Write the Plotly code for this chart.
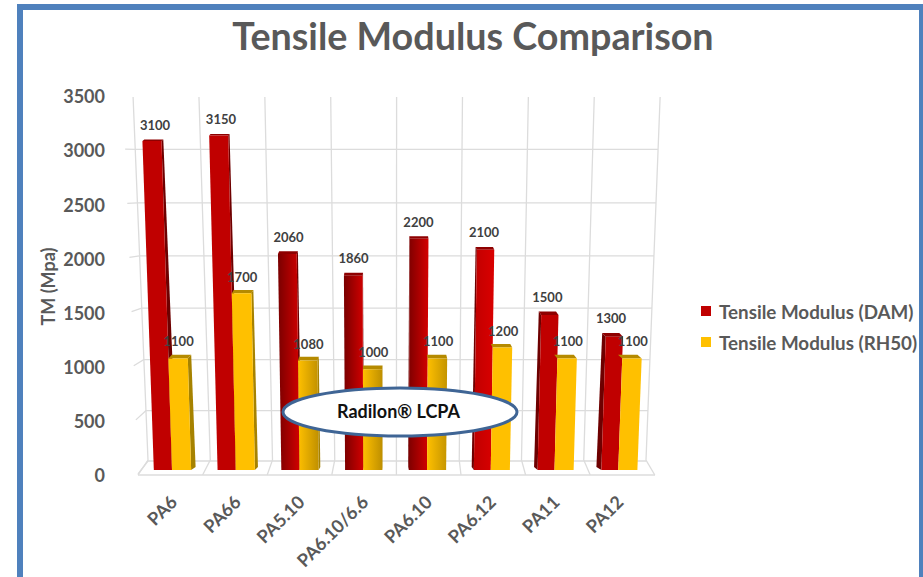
import plotly.graph_objects as go

# ---------- data ----------
categories = ["PA6", "PA66", "PA5.10", "PA6.10/6.6", "PA6.10", "PA6.12", "PA11", "PA12"]
dam_values = [3100, 3150, 2060, 1860, 2200, 2100, 1500, 1300]
rh50_values = [1100, 1700, 1080, 1000, 1100, 1200, 1100, 1100]
y_ticks = [0, 500, 1000, 1500, 2000, 2500, 3000, 3500]
series_names = ["Tensile Modulus (DAM)", "Tensile Modulus (RH50)"]

# ---------- styles ----------
W, H = 923, 577
FONT = "Lato"
GREY = "#595959"
GRID = "#DCDCDC"
RED, YEL = "#C00000", "#FFC000"
red_left = ["#C00000", "#C00000", "#7A0000", "#7A0000", "#7F0000", "#C00000", "#C00000", "#C00000"]
red_right = ["#C00000", "#C00000", "#D00000", "#D00000", "#D40000", "#DA0000", "#C00000", "#C00000"]
yel_right = ["#FFC000", "#FFC000", "#C09000", "#BE8F00", "#C49400", "#FFC000", "#FFC000", "#FFC000"]
red_widths = [0.285, 0.285, 0.285, 0.285, 0.285, 0.265, 0.265, 0.265]

# pixel geometry of the mock-3D scene
X0, DX = 172.0, 63.75        # pixel of category 0 boundary, pixels per category
Y0, SY = 473.0, 0.1076       # pixel of value 0, pixels per value unit
BASE = 3 / SY                # bars stand slightly in front of value 0
LEAN = 1.6e-5                # perspective lean of the bars
VX = 3.34                    # vanishing category position
DEPTH = 0.022
YEL_W = 0.30
TICK_0, TICK_TOP = 476, 97   # pixels of the axis labels' 0 and 3500


def lean(x, v):
    return LEAN * (x - VX) * v


def px_x(p):
    return (p - X0) / DX


def px_v(p):
    return (Y0 - p) / SY


def px_tick(p):
    return (TICK_0 - p) / (TICK_0 - TICK_TOP) * 3500


fig = go.Figure()


def add_bar(x0, x1, v, front_left, front_right, side, top, left_side=True):
    mid = (x0 + x1) / 2
    dx = DEPTH * (VX - mid)
    dx_top = dx * (1 - 0.7 * v / 3500)
    thick = (1 + 4 * (1 - v / 3500)) / SY
    vf = v - thick               # top edge of the front face; v is the back edge of the top face
    edge = x1 if dx > 0 else x0
    # side face
    if dx > 0 or left_side:
        fig.add_trace(go.Scatter(
            x=[edge, edge + dx, edge + dx_top + lean(edge, v), edge + lean(edge, vf), edge],
            y=[BASE, BASE + 3 / SY, v, vf, BASE], yaxis="y2", mode="lines", fill="toself",
            fillcolor=side, line=dict(width=0), hoverinfo="skip", showlegend=False))
    # top face
    tx0, tx1 = x0 + lean(x0, vf), x1 + lean(x1, vf)
    fig.add_trace(go.Scatter(
        x=[tx0, tx1, tx1 + dx_top, tx0 + dx_top, tx0], y=[vf, vf, v, v, vf],
        yaxis="y2", mode="lines", fill="toself", fillcolor=top, line=dict(width=0),
        hoverinfo="skip", showlegend=False))
    # front face
    kw = {}
    if front_left != front_right:
        kw["fillgradient"] = dict(type="horizontal", colorscale=[[0, front_left], [1, front_right]])
    fig.add_trace(go.Scatter(
        x=[x0, x1, tx1, tx0, x0], y=[BASE, BASE, vf, vf, BASE], yaxis="y2", mode="lines", fill="toself",
        fillcolor=front_left, line=dict(width=0), hoverinfo="skip", showlegend=False, **kw))


# ---------- walls and floor ----------
def back_y(v):
    return 461 - 0.1 * v - 1.3e-6 * v * v


gx, gy = [], []
for v in y_ticks:
    t = v / 3500
    fx = 138 - 15 * t
    bx = 148 - 15 * t
    right = 646 + 14 * t
    fy = 474 - 379 * t
    gx += [px_x(fx), px_x(bx), px_x(right), None]
    gy += [px_tick(fy), px_tick(back_y(v)), px_tick(back_y(v)), None]
for j in range(9):
    top_x = 133 + 65.9 * j
    bot_x = 148 + 62.25 * j
    front_x = 138 + 64.6 * j
    gx += [px_x(top_x), px_x(bot_x), px_x(front_x), None]
    gy += [px_tick(95), px_tick(460), px_tick(475), None]
gx += [px_x(138), px_x(655)]
gy += [px_tick(475), px_tick(475)]
fig.add_trace(go.Scatter(x=gx, y=gy, mode="lines", cliponaxis=False,
                         line=dict(color=GRID, width=1.3), hoverinfo="skip", showlegend=False))

# ---------- bars ----------
for i, v in enumerate(dam_values):
    add_bar(i - red_widths[i], i, v, red_left[i], red_right[i], "#6E0000", "#8E0000")
for i, v in enumerate(rh50_values):
    add_bar(i, i + YEL_W, v, YEL, yel_right[i], "#A68200", "#B58A00", left_side=False)

# ---------- data labels ----------
lab_x, lab_y, lab_t = [], [], []
for i, v in enumerate(dam_values):
    c = i - red_widths[i] / 2
    lab_x.append(c + lean(c, v) + 0.015 * (VX - i))
    lab_y.append(v + 13 / SY)
    lab_t.append(str(v))
for i, v in enumerate(rh50_values):
    c = i + YEL_W / 2
    lab_x.append(c + lean(c, v) + 0.01)
    lab_y.append(v + 11.5 / SY)
    lab_t.append(str(v))
fig.add_trace(go.Scatter(x=lab_x, y=lab_y, yaxis="y2", text=lab_t, mode="text", textposition="middle center",
                         textfont=dict(family=FONT, size=13, color="#404040", weight="bold"),
                         hoverinfo="skip", showlegend=False))

# ---------- layout ----------
shapes = [
    dict(type="rect", xref="paper", yref="paper", x0=20 / W, x1=922 / W, y0=1 - 7 / H, y1=-0.05,
         line=dict(color="#4F81BD", width=6), fillcolor="rgba(0,0,0,0)", layer="above"),
    dict(type="circle", xref="paper", yref="paper", x0=283 / W, x1=517 / W, y0=1 - 388 / H, y1=1 - 436 / H,
         line=dict(color="#3F6595", width=3), fillcolor="white", layer="above"),
]
annotations = [
    dict(text="Radilon® LCPA", xref="paper", yref="paper", x=399 / W, y=1 - 411 / H, yanchor="middle",
         showarrow=False, font=dict(family=FONT, size=18, color="#111111", weight="bold")),
]
leg_rows = [(311, RED), (342, YEL)]
for name, (py, col) in zip(series_names, leg_rows):
    shapes.append(dict(type="rect", xref="paper", yref="paper", x0=701 / W, x1=711 / W,
                       y0=1 - (py - 5) / H, y1=1 - (py + 5) / H, fillcolor=col, line=dict(width=0)))
    annotations.append(dict(text=name, xref="paper", yref="paper", x=717 / W, y=1 - py / H, xanchor="left",
                            yanchor="middle", showarrow=False,
                            font=dict(family=FONT, size=18.8, color=GREY, weight="bold")))

fig.update_layout(
    width=W, height=H, margin=dict(l=0, r=0, t=0, b=0), autosize=False,
    paper_bgcolor="white", plot_bgcolor="rgba(0,0,0,0)", showlegend=False,
    title=dict(text="Tensile Modulus Comparison", x=473 / W, xanchor="center", y=1 - 37 / H, yanchor="middle",
               font=dict(family=FONT, size=37.7, color=GREY, weight="bold")),
    xaxis=dict(domain=[0, 1], range=[px_x(0), px_x(W)], tickmode="array", tickvals=list(range(8)),
               ticktext=categories, tickangle=-45, showgrid=False, zeroline=False, showline=False,
               anchor="free", position=1 - 487 / H, ticks="", automargin=False,
               tickfont=dict(family=FONT, size=18, color=GREY, weight="bold")),
    yaxis=dict(domain=[1 - TICK_0 / H, 1 - TICK_TOP / H], range=[0, 3500], side="left",
               anchor="free", position=105 / W, tickmode="array", tickvals=y_ticks,
               showgrid=False, zeroline=False, showline=False, ticks="", automargin=False,
               tickfont=dict(family=FONT, size=18, color=GREY, weight="bold"),
               title=dict(text="TM (Mpa)", standoff=1, font=dict(family=FONT, size=18, color=GREY, weight="bold"))),
    yaxis2=dict(domain=[0, 1], range=[px_v(H), px_v(0)], visible=False, fixedrange=True,
                automargin=False, anchor="x"),
    shapes=shapes, annotations=annotations,
)

fig.write_html("out.html", config=dict(displayModeBar=False),
               post_script="document.body.style.margin='0';document.body.style.overflow='hidden';")
